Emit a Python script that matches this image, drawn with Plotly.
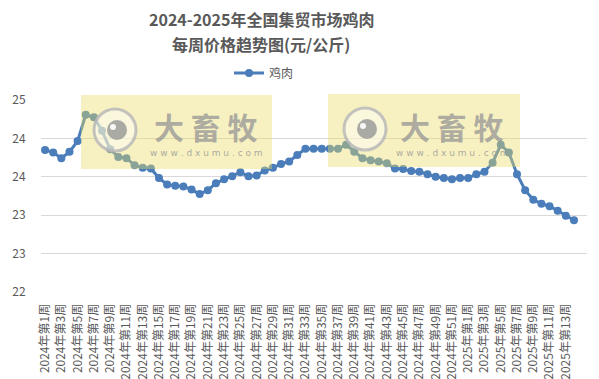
import plotly.graph_objects as go

# ---- data ----
weeks_2024 = list(range(1, 53))
weeks_2025 = list(range(1, 15))
categories = [f"2024年第{w}周" for w in weeks_2024] + [f"2025年第{w}周" for w in weeks_2025]
chicken = [24.22, 24.18, 24.09, 24.19, 24.36, 24.77, 24.73, 24.52, 24.23, 24.11,
           24.09, 23.98, 23.94, 23.93, 23.78, 23.68, 23.66, 23.65, 23.60, 23.53,
           23.59, 23.70, 23.76, 23.81, 23.87, 23.81, 23.82, 23.90, 23.94, 24.00,
           24.04, 24.14, 24.24, 24.24, 24.24, 24.24, 24.24, 24.30, 24.19, 24.09,
           24.06, 24.04, 24.01, 23.93, 23.92, 23.89, 23.88, 23.84, 23.80, 23.78,
           23.76, 23.78, 23.78, 23.84, 23.88, 24.02, 24.30, 24.18, 23.84, 23.59,
           23.44, 23.38, 23.34, 23.27, 23.19, 23.12]
y_tickvals = [22.0, 22.6, 23.2, 23.8, 24.4, 25.0]
y_ticktext = ["22", "23", "23", "24", "24", "25"]
series_name = "鸡肉"
title_lines = ["2024-2025年全国集贸市场鸡肉", "每周价格趋势图(元/公斤)"]

LINE_COLOR = "#4A7DBA"
TEXT_COLOR = "#595959"
FONT = "Noto Sans CJK SC"

W, H = 599, 379
L, R, T, B = 41, 12, 100, 87
PW, PH = W - L - R, H - T - B


def px_x(px):
    return (px - L) / PW


def px_y(py):
    return (H - B - py) / PH


fig = go.Figure()
fig.add_trace(go.Scatter(
    x=categories, y=chicken, name=series_name, mode="lines+markers",
    line=dict(color=LINE_COLOR, width=3),
    marker=dict(color=LINE_COLOR, size=8),
))

shapes = []
annotations = []
# title as two separate lines
for line, py in zip(title_lines, [19, 44]):
    annotations.append(dict(xref="paper", yref="paper", x=px_x(261), y=px_y(py),
                            text="<b>" + line + "</b>", showarrow=False,
                            font=dict(family=FONT, size=16, color=TEXT_COLOR),
                            xanchor="center", yanchor="middle"))
# watermark blocks (decoration)
for (rx0, rx1, ry0, ry1, cx, cy, tx) in [
    (81, 272, 95, 169, 115, 130, 206),
    (328, 520, 94, 167, 365, 129, 452),
]:
    shapes.append(dict(type="rect", xref="paper", yref="paper",
                       x0=px_x(rx0), x1=px_x(rx1), y0=px_y(ry1), y1=px_y(ry0),
                       fillcolor="rgba(235,220,100,0.40)", line=dict(width=0), layer="above"))
    r = 21
    shapes.append(dict(type="circle", xref="paper", yref="paper",
                       x0=px_x(cx - r), x1=px_x(cx + r), y0=px_y(cy + r), y1=px_y(cy - r),
                       fillcolor="rgba(255,255,255,0.45)",
                       line=dict(color="rgba(185,185,185,0.85)", width=3), layer="above"))
    r2 = 10
    shapes.append(dict(type="circle", xref="paper", yref="paper",
                       x0=px_x(cx + 2 - r2), x1=px_x(cx + 2 + r2), y0=px_y(cy + r2), y1=px_y(cy - r2),
                       fillcolor="rgba(150,150,150,0.8)", line=dict(width=0), layer="above"))
    r3 = 3
    shapes.append(dict(type="circle", xref="paper", yref="paper",
                       x0=px_x(cx - 2 - r3), x1=px_x(cx - 2 + r3), y0=px_y(cy - 3 + r3), y1=px_y(cy - 3 - r3),
                       fillcolor="rgba(255,255,255,0.9)", line=dict(width=0), layer="above"))
    annotations.append(dict(xref="paper", yref="paper", x=px_x(tx), y=px_y(126),
                            text="<b>大 畜 牧</b>", showarrow=False,
                            font=dict(family=FONT, size=30, color="rgba(150,150,150,0.75)"),
                            xanchor="center", yanchor="middle"))
    annotations.append(dict(xref="paper", yref="paper", x=px_x(tx), y=px_y(153),
                            text="w w w . d x u m u . c o m", showarrow=False,
                            font=dict(family="DejaVu Sans", size=9, color="rgba(150,150,150,0.8)"),
                            xanchor="center", yanchor="middle"))

fig.update_layout(
    width=W, height=H,
    margin=dict(l=L, r=R, t=T, b=B, autoexpand=False),
    paper_bgcolor="white", plot_bgcolor="white",
    font=dict(family=FONT, color=TEXT_COLOR),
    showlegend=True,
    legend=dict(orientation="h", x=px_x(229), xanchor="left", y=px_y(73), yanchor="middle",
                font=dict(family=FONT, size=12, color=TEXT_COLOR),
                bgcolor="rgba(0,0,0,0)", itemwidth=30),
    xaxis=dict(type="category", range=[-0.5, 66.6], automargin=False,
               tickmode="array", tickvals=categories[::2], ticktext=categories[::2],
               tickangle=-90, tickfont=dict(family=FONT, size=12, color=TEXT_COLOR),
               showgrid=False, showline=False, ticks="outside", ticklen=6,
               tickcolor="rgba(0,0,0,0)", zeroline=False),
    yaxis=dict(range=[22, 25], tickmode="array", tickvals=y_tickvals, ticktext=y_ticktext,
               automargin=False,
               tickfont=dict(family=FONT, size=12, color=TEXT_COLOR),
               showgrid=True, gridcolor="#D9D9D9", gridwidth=1,
               ticks="outside", ticklen=12, tickcolor="rgba(0,0,0,0)",
               zeroline=False, showline=False),
    shapes=shapes,
    annotations=annotations,
)

fig.write_html("out.html")
